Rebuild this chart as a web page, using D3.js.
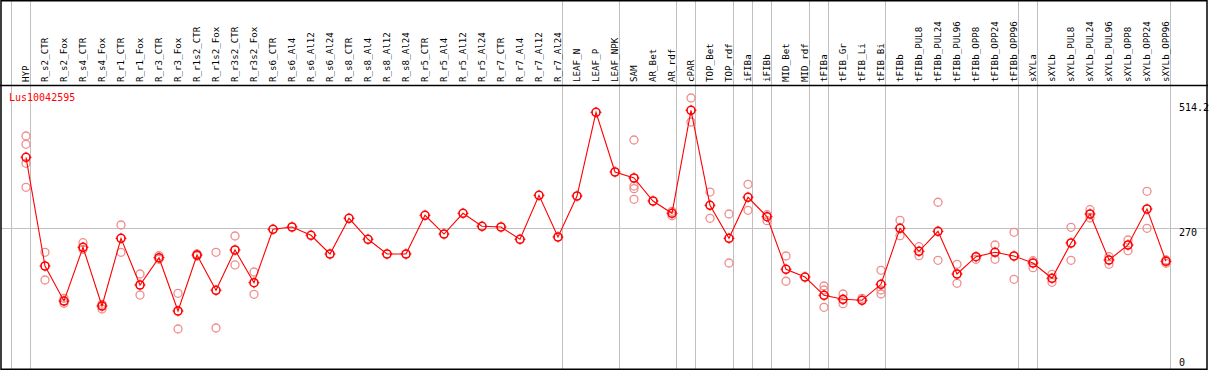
<!DOCTYPE html>
<html>
<head>
<meta charset="utf-8">
<script src="https://cdn.jsdelivr.net/npm/d3@7"></script>
<style>
  body { margin: 0; background: #fff; }
  svg { display: block; }
  .lbl { font-family: "DejaVu Sans Mono", monospace; font-size: 9.2px; fill: #000; }
  .tick { font-family: "DejaVu Sans Mono", monospace; font-size: 10px; fill: #000; }
</style>
</head>
<body>
<div id="chart"></div>
<script>
const width = 1209, height = 370;

// sample names, one column each
const categories = [
  "HYP", "R_s2_CTR", "R_s2_Fox", "R_s4_CTR", "R_s4_Fox", "R_r1_CTR", "R_r1_Fox",
  "R_r3_CTR", "R_r3_Fox", "R_r1s2_CTR", "R_r1s2_Fox", "R_r3s2_CTR", "R_r3s2_Fox",
  "R_s6_CTR", "R_s6_Al4", "R_s6_Al12", "R_s6_Al24", "R_s8_CTR", "R_s8_Al4",
  "R_s8_Al12", "R_s8_Al24", "R_r5_CTR", "R_r5_Al4", "R_r5_Al12", "R_r5_Al24",
  "R_r7_CTR", "R_r7_Al4", "R_r7_Al12", "R_r7_Al24", "LEAF_N", "LEAF_P", "LEAF_NPK",
  "SAM", "AR_Bet", "AR_rdf", "cPAR", "TOP_Bet", "TOP_rdf", "iFIBa", "iFIBb",
  "MID_Bet", "MID_rdf", "tFIBa", "tFIB_Gr", "tFIB_Li", "tFIB_Bi", "tFIBb",
  "tFIBb_PUL8", "tFIBb_PUL24", "tFIBb_PUL96", "tFIBb_OPP8", "tFIBb_OPP24", "tFIBb_OPP96",
  "sXYLa", "sXYLb", "sXYLb_PUL8", "sXYLb_PUL24", "sXYLb_PUL96", "sXYLb_OPP8",
  "sXYLb_OPP24", "sXYLb_OPP96"
];

// mean expression per sample
const means = [
  402.5, 197.8, 131.8, 233.0, 122.4, 249.9, 162.0, 213.4, 113.0, 218.5, 152.0, 227.9, 166.3,
  266.9, 271.2, 255.6, 220.4, 287.6, 248.1, 220.4, 220.4, 293.3, 258.0, 297.0, 272.5,
  271.2, 248.1, 330.9, 252.4, 329.6, 487.3, 374.8,
  363.5, 320.2, 297.0, 491.0, 312.1, 249.9, 327.2, 290.6,
  191.6, 177.0, 142.6, 135.0, 133.2, 163.3, 268.8,
  225.5, 263.1, 182.7, 215.3, 223.6, 216.6,
  203.4, 174.6, 241.1, 295.7, 209.1, 237.3, 305.1, 206.6
];

// individual replicate values per sample
const replicates = [
  [442.6, 427.0, 391.2, 346.0], [223.6, 171.4], [136.9, 127.5], [241.7, 229.2], [125.6, 116.8],
  [275.0, 223.6], [182.7, 143.1], [217.2, 210.4], [146.3, 79.1], [220.4, 216.6],
  [223.6, 81.0], [254.3, 199.7], [186.5, 144.5],
  [], [], [], [], [], [], [], [], [], [], [], [], [], [], [], [], [], [], [],
  [435.1, 348.4, 343.4, 323.4], [], [300.8, 292.5], [514.2, 469.0], [337.1, 287.6],
  [295.7, 203.4], [351.6, 302.7], [294.4, 283.1],
  [216.6, 169.0], [], [160.1, 152.6, 120.0], [145.0, 126.8], [136.9], [189.7, 152.6, 145.0],
  [283.8, 254.8],
  [234.1, 217.2], [317.8, 208.5], [201.0, 165.2], [210.4], [237.3, 210.4], [261.2, 172.7],
  [207.8, 194.6], [182.1, 167.1], [270.7, 208.5], [303.8, 288.2], [215.3, 201.0],
  [246.7, 226.6], [338.5, 268.8], [209.1, 202.9]
];

// last sample of each tissue group (separator drawn after it)
const groupEnds = ["HYP", "R_r7_Al24", "LEAF_NPK", "AR_rdf", "cPAR", "TOP_rdf", "iFIBa",
  "iFIBb", "MID_rdf", "tFIBa", "tFIB_Bi", "tFIBb_OPP96", "sXYLa", "sXYLb_OPP96"];

const yTicks = [0, 270, 514.2];
const geneName = "Lus10042595";

const xScale = d3.scalePoint().domain(categories).range([26, 1166]);
const yScale = d3.scaleLinear().domain([0, 514.2]).range([371, 98]);

const svg = d3.select("#chart").append("svg")
  .attr("width", width).attr("height", height);

// vertical group separators
const sepX = [xScale(categories[0]) - 14.5].concat(groupEnds.map(c => xScale(c) + 4.5));
svg.append("g").selectAll("line").data(sepX).enter().append("line")
  .attr("x1", d => d).attr("x2", d => d)
  .attr("y1", 1).attr("y2", 369)
  .attr("stroke", "#c0c0c0").attr("stroke-width", 1);

// horizontal grid at 270
svg.append("line")
  .attr("x1", 1).attr("x2", 1207)
  .attr("y1", Math.round(yScale(270)) + 0.5).attr("y2", Math.round(yScale(270)) + 0.5)
  .attr("stroke", "#c0c0c0").attr("stroke-width", 1);

// header separator and frame
svg.append("line")
  .attr("x1", 0).attr("x2", 1208).attr("y1", 85.5).attr("y2", 85.5)
  .attr("stroke", "#000").attr("stroke-width", 1.5);
svg.append("rect")
  .attr("x", 1).attr("y", 0.75).attr("width", 1206).attr("height", 368.5)
  .attr("fill", "none").attr("stroke", "#000").attr("stroke-width", 1.5);

// rotated sample labels
svg.append("g").selectAll("text").data(categories).enter().append("text")
  .attr("class", "lbl")
  .attr("transform", d => "translate(" + (xScale(d) + 3) + ",82) rotate(-90)")
  .attr("text-anchor", "start")
  .text(d => d);

// gene name
svg.append("text").attr("class", "tick")
  .attr("x", 9).attr("y", 101).attr("fill", "#ff0000").style("fill", "#ff0000")
  .text(geneName);

// y tick labels on the right
svg.append("g").selectAll("text").data(yTicks).enter().append("text")
  .attr("class", "tick")
  .attr("x", 1179)
  .attr("y", d => Math.min(Math.max(yScale(d) + 8, 111), 366))
  .text(d => d);

// replicate points
const repData = [];
replicates.forEach((reps, i) => reps.forEach(v => repData.push({ c: categories[i], v: v })));
svg.append("g").selectAll("circle").data(repData).enter().append("circle")
  .attr("cx", d => xScale(d.c)).attr("cy", d => yScale(d.v))
  .attr("r", 4)
  .attr("fill", "none").attr("stroke", "#f08c8c").attr("stroke-width", 1.3);

// mean line
const meanData = categories.map((c, i) => ({ c: c, v: means[i] }));
svg.append("path").datum(meanData)
  .attr("d", d3.line().x(d => xScale(d.c)).y(d => yScale(d.v)))
  .attr("fill", "none").attr("stroke", "#ff0000").attr("stroke-width", 1.1);

// mean markers
const marks = svg.append("g").selectAll("g").data(meanData).enter().append("g")
  .attr("transform", d => "translate(" + xScale(d.c) + "," + yScale(d.v) + ")");
marks.append("circle")
  .attr("r", 4).attr("fill", "none").attr("stroke", "#ff0000").attr("stroke-width", 1.6);
marks.append("path")
  .attr("d", "M0,-5.5V-3.5M0,3.5V5.5M-5.5,0H-3.5M3.5,0H5.5")
  .attr("stroke", "#ff0000").attr("stroke-width", 1);
</script>
</body>
</html>
